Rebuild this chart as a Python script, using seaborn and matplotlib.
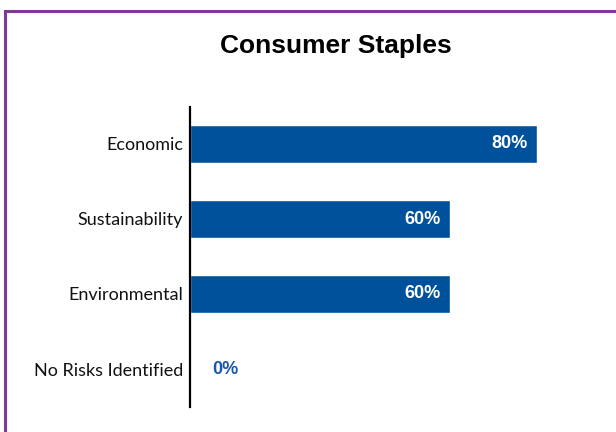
import pandas as pd
import matplotlib.pyplot as plt
import seaborn as sns
from matplotlib.lines import Line2D

# chart data
categories = ['Economic', 'Sustainability', 'Environmental', 'No Risks Identified']
values = [80, 60, 60, 0]
title = 'Consumer Staples'

df = pd.DataFrame({'risk': categories, 'pct': values})

bar_color = '#00519B'
label_blue = '#1B58A5'
purple = '#7E3A98'

sns.set_style('white')
fig = plt.figure(figsize=(6.16, 4.32), dpi=100)
ax = fig.add_axes([190 / 616, 25.5 / 432, 410 / 616, 300 / 432])

sns.barplot(data=df, y='risk', x='pct', orient='h', color=bar_color,
            width=0.51, saturation=1, ax=ax)

ax.set_xlim(0, 94.6)
ax.set_ylim(3.5, -0.5)
ax.set_xlabel('')
ax.set_ylabel('')
ax.set_xticks([])
for s in ['top', 'right', 'bottom']:
    ax.spines[s].set_visible(False)
ax.spines['left'].set_linewidth(1.6)
ax.spines['left'].set_color('black')
ax.tick_params(axis='y', length=0, pad=5)
for lab in ax.get_yticklabels():
    lab.set_fontfamily('Lato')
    lab.set_fontsize(13)
    lab.set_color('#111111')

# value labels
for i, v in enumerate(values):
    if v > 0:
        ax.annotate(f'{v}%', xy=(v, i), xytext=(-6.5, 0), textcoords='offset points',
                    ha='right', va='center', color='white', fontsize=13,
                    fontweight='bold', family='Liberation Sans')
    else:
        ax.annotate(f'{v}%', xy=(v, i), xytext=(15.8, 0), textcoords='offset points',
                    ha='left', va='center', color=label_blue, fontsize=13,
                    fontweight='bold', family='Liberation Sans')

fig.text(336 / 616, 1 - 53 / 432, title, ha='center', va='baseline',
         fontsize=19, fontweight='bold', family='Liberation Sans', color='black')

# purple frame (left and top edges)
top_y = 1 - 10.5 / 432
left_x = 5 / 616
fig.add_artist(Line2D([left_x, left_x], [0, top_y], transform=fig.transFigure,
                      color=purple, linewidth=2.2, solid_capstyle='projecting'))
fig.add_artist(Line2D([left_x, 1], [top_y, top_y], transform=fig.transFigure,
                      color=purple, linewidth=2.2, solid_capstyle='projecting'))

plt.savefig('out.png', dpi=100)
